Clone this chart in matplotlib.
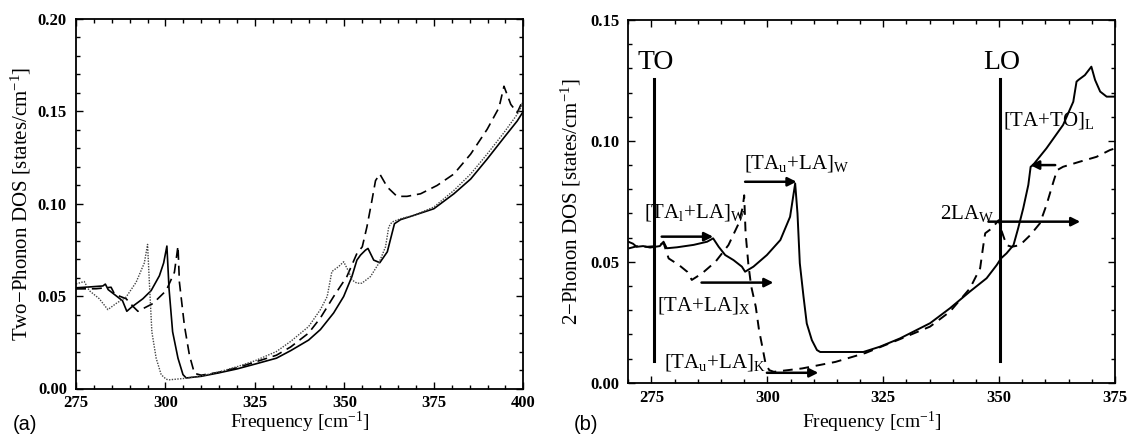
import matplotlib
matplotlib.use("Agg")
import matplotlib.pyplot as plt
from matplotlib.ticker import MultipleLocator, FormatStrFormatter

plt.rcParams['font.family'] = ['Liberation Serif', 'DejaVu Serif']
plt.rcParams['mathtext.fontset'] = 'custom'
plt.rcParams['mathtext.rm'] = 'Liberation Serif'
plt.rcParams['mathtext.it'] = 'Liberation Serif:italic'
plt.rcParams['mathtext.bf'] = 'Liberation Serif:bold'

# ---------------- Panel (a) data ----------------
a_solid_x = [275, 279, 282.5, 283.2, 284, 286, 288, 289.2, 290.5, 293.7, 296, 298.3, 299.5, 300.4,
             301, 302, 303.5, 304.9, 305.8, 310, 315, 320, 325, 331, 335, 340, 343.3, 347, 349.8,
             352.1, 353.5, 354.5, 355.9, 356.6, 358.2, 359.9, 362, 363.3, 364, 365.7, 369.4, 375,
             380.6, 385.3, 389.9, 394.6, 398.3, 400]
a_solid_y = [0.0545, 0.0550, 0.0555, 0.0565, 0.0535, 0.0505, 0.0475, 0.0418, 0.0440, 0.0486, 0.0530,
             0.0610, 0.0680, 0.0771, 0.0540, 0.0307, 0.0164, 0.0075, 0.0057, 0.0066, 0.0085, 0.0106,
             0.0132, 0.0164, 0.0205, 0.0262, 0.0319, 0.0409, 0.0498, 0.0606, 0.0695, 0.0722, 0.0749,
             0.0758, 0.0695, 0.0681, 0.0740, 0.0839, 0.0892, 0.0914, 0.0937, 0.0973, 0.1054, 0.1134,
             0.1242, 0.1358, 0.1448, 0.1500]

a_dash_x = [275, 280.6, 284.8, 285.8, 289, 290.9, 292.3, 296.5, 300.2, 302.5, 303.5, 303.9, 305.3,
            306.7, 308.1, 310, 315, 320, 325, 331, 335, 340, 343.3, 347, 350.7, 353.5, 355, 356.3,
            357.7, 358.7, 359.9, 362, 364.7, 367.5, 371.3, 375.9, 380.6, 385.3, 389.9, 393.2, 394.6,
            396.5, 398.3, 400]
a_dash_y = [0.0539, 0.0540, 0.0548, 0.0510, 0.0486, 0.0445, 0.0418, 0.0460, 0.0530, 0.0629, 0.0771,
            0.0575, 0.0340, 0.0180, 0.0082, 0.0072, 0.0088, 0.0113, 0.0143, 0.0180, 0.0225, 0.0300,
            0.0382, 0.0498, 0.0606, 0.0731, 0.0767, 0.0875, 0.1018, 0.1125, 0.1161, 0.1090, 0.1040,
            0.1040, 0.1054, 0.1099, 0.1161, 0.1269, 0.1403, 0.1520, 0.1636, 0.1538, 0.1493, 0.1565]

a_dot_x = [275, 277.3, 278.7, 281.5, 283.9, 286.2, 289, 291.8, 294.1, 295, 295.5, 296.2, 297.4, 298.8,
           300.2, 301, 305, 310, 315, 320, 325, 331, 335, 340, 343.3, 345.2, 346.5, 348.4, 349.8,
           351.2, 352.1, 353.5, 354.9, 357.3, 359.6, 361.5, 362.4, 363.3, 365.7, 369.4, 375, 380.6,
           385.3, 389.9, 394.6, 398.3, 399.3, 400]
a_dot_y = [0.0566, 0.0579, 0.0530, 0.0486, 0.0427, 0.0460, 0.0495, 0.0575, 0.0680, 0.0780, 0.0575,
           0.0307, 0.0164, 0.0075, 0.0050, 0.0047, 0.0054, 0.0068, 0.0090, 0.0118, 0.0150, 0.0200,
           0.0255, 0.0335, 0.0427, 0.0498, 0.0633, 0.0660, 0.0686, 0.0633, 0.0588, 0.0570, 0.0570,
           0.0606, 0.0677, 0.0767, 0.0875, 0.0901, 0.0919, 0.0937, 0.0982, 0.1072, 0.1161, 0.1269,
           0.1385, 0.1484, 0.1520, 0.1560]

# ---------------- Panel (b) data ----------------
b_solid_x = [270, 271, 271.8, 273.2, 274.7, 276.8, 277.6, 278.3, 280.5, 284.1, 287, 288.3, 289.5,
             290.9, 292.7, 294.5, 295.2, 297, 299.9, 302.8, 304.9, 306, 306.5, 307.0, 307.8, 308.5,
             309.6, 310.7, 311.4, 320.7, 324.3, 328.6, 335.1, 339.4, 343.7, 347.3, 349.5, 350.4,
             351.6, 353.1, 354.1, 355.2, 356.3, 356.8, 357.3, 360.2, 363.8, 366.0, 366.7, 367.1,
             368.5, 369.9, 370.7, 371.8, 373.2, 375]
b_solid_y = [0.0583, 0.0575, 0.0562, 0.0565, 0.0559, 0.0565, 0.0583, 0.0556, 0.0560, 0.0570, 0.0583,
             0.0597, 0.0562, 0.0528, 0.0507, 0.0480, 0.0459, 0.0480, 0.0528, 0.0590, 0.0686, 0.0824,
             0.0700, 0.0494, 0.0356, 0.0245, 0.0176, 0.0135, 0.0127, 0.0127, 0.0149, 0.0183, 0.0246,
             0.0308, 0.0377, 0.0432, 0.0487, 0.0514, 0.0535, 0.0569, 0.0638, 0.0721, 0.0818, 0.0893,
             0.0900, 0.0969, 0.1066, 0.1162, 0.1245, 0.1252, 0.1272, 0.1307, 0.1252, 0.1204, 0.1183,
             0.1183]

b_dash_x = [270, 272, 274, 276, 277.6, 278.7, 280.9, 282.7, 283.7, 285.9, 288.8, 291.6, 293.8, 294.7,
            295.0, 295.3, 295.9, 296.5, 297.5, 298.2, 298.9, 299.6, 300.4, 301.4, 307.5, 314.7, 321.2,
            328.6, 335.1, 339.4, 343.7, 345.9, 346.6, 347.0, 348.4, 349.9, 350.6, 351.6, 352.7, 354.5,
            356.7, 358.8, 360.2, 361.7, 362.5, 363.8, 367.4, 371, 373.9, 375]
b_dash_y = [0.0555, 0.0565, 0.0562, 0.0565, 0.0578, 0.0514, 0.0487, 0.0459, 0.0425, 0.0452, 0.0500,
            0.0569, 0.0658, 0.0727, 0.0775, 0.0620, 0.0490, 0.0400, 0.0314, 0.0218, 0.0150, 0.0080,
            0.0052, 0.0045, 0.0059, 0.0086, 0.0123, 0.0180, 0.0232, 0.0294, 0.0390, 0.0473, 0.0569,
            0.0618, 0.0638, 0.0672, 0.0624, 0.0569, 0.0562, 0.0569, 0.0610, 0.0659, 0.0734, 0.0830,
            0.0879, 0.0893, 0.0914, 0.0934, 0.0962, 0.0969]

mode_freqs = [275.6, 350.2]
mode_labels = ['TO', 'LO']
mode_ymin = 0.009
mode_ymax = 0.1255

a_xticks = [275, 300, 325, 350, 375, 400]
a_yticks = [0.00, 0.05, 0.10, 0.15, 0.20]
b_xticks = [275, 300, 325, 350, 375]
b_yticks = [0.00, 0.05, 0.10, 0.15]

# ---------------- Figure ----------------
fig = plt.figure(figsize=(11.33, 4.37), dpi=100)
axa = fig.add_axes([76/1133, 1-388.5/437, 447.3/1133, 369.5/437])
axb = fig.add_axes([628.3/1133, 1-382.7/437, 486.7/1133, 362.7/437])

LW = 1.2
axa.plot(a_solid_x, a_solid_y, color='k', lw=LW, ls='-')
axa.plot(a_dash_x, a_dash_y, color='k', lw=LW, ls=(0, (6, 3.5)))
axa.plot(a_dot_x, a_dot_y, color='#444444', lw=1.0, ls=(0, (1, 1)))

axb.plot(b_solid_x, b_solid_y, color='k', lw=LW + 0.2, ls='-')
axb.plot(b_dash_x, b_dash_y, color='k', lw=LW + 0.2, ls=(0, (5, 3.5)))

for f, lab in zip(mode_freqs, mode_labels):
    axb.plot([f, f], [mode_ymin, mode_ymax], color='k', lw=2.2)
    axb.text(f + 0.3, 0.1325, lab, fontsize=20, ha='center', va='center')

def arrow(ax, x0, x1, y):
    ax.annotate('', xy=(x1, y), xytext=(x0, y),
                arrowprops=dict(arrowstyle='-|>', lw=1.8, color='k',
                                mutation_scale=13, shrinkA=0, shrinkB=0))

fs_ann = 15
axb.text(273.4, 0.0705, r'[TA$_\mathrm{l}$+LA]$_\mathrm{W}$', fontsize=fs_ann, va='center', ha='left')
arrow(axb, 277.2, 288.3, 0.0604)
axb.text(295.0, 0.0905, r'[TA$_\mathrm{u}$+LA]$_\mathrm{W}$', fontsize=fs_ann, va='center', ha='left')
arrow(axb, 295.2, 306.3, 0.0831)
axb.text(276.1, 0.0320, r'[TA+LA]$_\mathrm{X}$', fontsize=fs_ann, va='center', ha='left')
arrow(axb, 285.8, 301.3, 0.0414)
axb.text(277.6, 0.0085, r'[TA$_\mathrm{u}$+LA]$_\mathrm{K}$', fontsize=fs_ann, va='center', ha='left')
arrow(axb, 299.9, 311.0, 0.0041)
axb.text(337.2, 0.0700, r'2LA$_\mathrm{W}$', fontsize=fs_ann, va='center', ha='left')
arrow(axb, 347.7, 367.5, 0.0666)
axb.text(350.8, 0.1085, r'[TA+TO]$_\mathrm{L}$', fontsize=fs_ann, va='center', ha='left')
arrow(axb, 362.1, 356.7, 0.0900)

# ---------------- Axes styling ----------------
for ax, xt, yt, xl, yl in [(axa, a_xticks, a_yticks, (275, 400), (0, 0.20)),
                           (axb, b_xticks, b_yticks, (270, 375), (0, 0.15))]:
    ax.set_xlim(*xl)
    ax.set_ylim(*yl)
    ax.set_xticks(xt)
    ax.set_yticks(yt)
    ax.xaxis.set_minor_locator(MultipleLocator(5))
    ax.yaxis.set_minor_locator(MultipleLocator(0.01))
    ax.yaxis.set_major_formatter(FormatStrFormatter('%.2f'))
    ax.tick_params(which='both', direction='in', top=True, right=True, labelsize=12, width=1.0)
    ax.tick_params(which='major', length=5)
    ax.tick_params(which='minor', length=3)
    ax.tick_params(axis='x', which='major', pad=5)
    ax.tick_params(axis='y', which='major', pad=6.5)
    for lbl in ax.get_xticklabels() + ax.get_yticklabels():
        lbl.set_fontweight('bold')
    for sp in ax.spines.values():
        sp.set_linewidth(1.3)
    ax.set_xlabel(r'Frequency [cm$^{-1}$]', fontsize=14)

axa.set_ylabel(r'Two−Phonon DOS [states/cm$^{-1}$]', fontsize=15)
axb.set_ylabel(r'2−Phonon DOS [states/cm$^{-1}$]', fontsize=15)
axa.yaxis.set_label_coords(-0.097, 0.5)
axb.yaxis.set_label_coords(-0.093, 0.5)
axa.xaxis.set_label_coords(0.5, -0.058)
axb.xaxis.set_label_coords(0.5, -0.074)

fig.text(0.011, 0.016, '(a)', fontsize=14.5, family=['Liberation Sans', 'DejaVu Sans'])
fig.text(0.506, 0.016, '(b)', fontsize=14.5, family=['Liberation Sans', 'DejaVu Sans'])

fig.savefig('out.png', dpi=100)
